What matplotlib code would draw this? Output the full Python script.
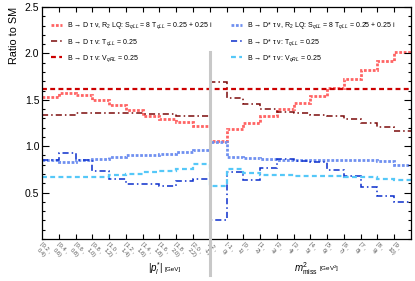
import numpy as np
import matplotlib
matplotlib.use("Agg")
import matplotlib.pyplot as plt
from matplotlib.ticker import MultipleLocator, FixedLocator, NullFormatter
import matplotlib.transforms as mtransforms

plt.rcParams['font.family'] = ['Liberation Sans', 'DejaVu Sans']
plt.rcParams['mathtext.fontset'] = 'custom'
plt.rcParams['mathtext.rm'] = 'Liberation Sans'
plt.rcParams['mathtext.it'] = 'Liberation Sans:italic'

# bin labels: 10 bins in |p_l*|, 12 bins in m_miss^2
p_bins = ["[0.2 ,\n0.4)", "[0.4 ,\n0.6)", "[0.6 ,\n0.8)", "[0.8 ,\n1.0)", "[1.0 ,\n1.2)",
          "[1.2 ,\n1.4)", "[1.4 ,\n1.6)", "[1.6 ,\n1.8)", "[1.8 ,\n2.0)", "[2.0 ,\n2.2)"]
m_bins = ["[-2 ,\n-1)", "[-1 ,\n0)", "[0 ,\n1)", "[1 ,\n2)", "[2 ,\n3)", "[3 ,\n4)",
          "[4 ,\n5)", "[5 ,\n6)", "[6 ,\n7)", "[7 ,\n8)", "[8 ,\n9)", "[9 ,\n10)"]
bin_labels = p_bins + m_bins

# ratio to SM per bin (first 10: |p_l*| bins, last 12: m_miss^2 bins)
bd_lq = [1.53, 1.57, 1.55, 1.50, 1.44, 1.39, 1.33, 1.29, 1.26, 1.22,
         1.06, 1.19, 1.25, 1.33, 1.40, 1.47, 1.54, 1.63, 1.72, 1.82, 1.92, 2.02]
bd_t = [1.34, 1.34, 1.36, 1.36, 1.36, 1.36, 1.345, 1.345, 1.325, 1.325,
        1.69, 1.52, 1.46, 1.40, 1.37, 1.355, 1.34, 1.33, 1.29, 1.255, 1.21, 1.16]
bd_v = [1.62, 1.62, 1.62, 1.62, 1.62, 1.62, 1.62, 1.62, 1.62, 1.62,
        1.62, 1.62, 1.62, 1.62, 1.62, 1.62, 1.62, 1.62, 1.62, 1.62, 1.62, 1.62]
bds_lq = [0.85, 0.83, 0.85, 0.86, 0.88, 0.90, 0.91, 0.92, 0.94, 0.96,
          1.04, 0.885, 0.87, 0.86, 0.85, 0.85, 0.85, 0.85, 0.85, 0.85, 0.845, 0.80]
bds_t = [0.85, 0.93, 0.85, 0.735, 0.65, 0.59, 0.595, 0.575, 0.62, 0.65,
         0.21, 0.72, 0.64, 0.76, 0.86, 0.84, 0.825, 0.74, 0.675, 0.555, 0.465, 0.395]
bds_v = [0.67, 0.67, 0.67, 0.67, 0.69, 0.70, 0.72, 0.735, 0.75, 0.81,
         0.567, 0.75, 0.71, 0.69, 0.69, 0.68, 0.68, 0.675, 0.665, 0.665, 0.65, 0.635]

lq_lbl = ", R$_2$ LQ: S$_{qLL}$ = 8 T$_{qLL}$ = 0.25 + 0.25 i"
series = [
    (bd_lq, "B \u2192 D \u03c4 \u03bd" + lq_lbl, '#ff6464', (0, (1, 0.6)), 2.0),
    (bd_t, "B \u2192 D \u03c4 \u03bd: T$_{qLL}$ = 0.25", '#7a0a0a', (0, (4, 2, 1, 2)), 1.1),
    (bd_v, "B \u2192 D \u03c4 \u03bd: V$_{qRL}$ = 0.25", '#cc0000', (0, (2.2, 1.5)), 1.6),
    (bds_lq, "B \u2192 D* \u03c4 \u03bd" + lq_lbl, '#7090f0', (0, (1, 0.6)), 2.0),
    (bds_t, "B \u2192 D* \u03c4 \u03bd: T$_{qLL}$ = 0.25", '#0a2ecc', (0, (4, 2, 1, 2)), 1.1),
    (bds_v, "B \u2192 D* \u03c4 \u03bd: V$_{qRL}$ = 0.25", '#55c8f8', (0, (2.2, 1.5)), 1.6),
]

fig = plt.figure(figsize=(4.15, 2.81), dpi=100)
ax = fig.add_axes([42 / 415, 42 / 281, 369 / 415, 232 / 281])

n = len(bin_labels)
edges = np.arange(n + 1)
handles = []
for vals, lbl, col, ls, lw in series:
    h = ax.stairs(vals, edges, baseline=None, color=col, linestyle=ls, linewidth=lw, label=lbl)
    handles.append(h)

ax.set_xlim(0, n)
ax.set_ylim(0, 2.5)

# ROOT-like ticks
ax.yaxis.set_major_locator(FixedLocator([0.5, 1, 1.5, 2, 2.5]))
ax.yaxis.set_minor_locator(MultipleLocator(0.1))
ax.xaxis.set_major_locator(FixedLocator(np.arange(1, n)))
ax.xaxis.set_major_formatter(NullFormatter())
ax.tick_params(axis='both', which='both', direction='in', top=True, right=True, width=0.8)
ax.tick_params(axis='y', which='major', length=5, labelsize=7.5, pad=2)
ax.tick_params(axis='y', which='minor', length=2.5)
ax.tick_params(axis='x', which='major', length=3.5)
for s in ax.spines.values():
    s.set_linewidth(0.9)

# rotated bin labels
trans = mtransforms.blended_transform_factory(ax.transData, ax.transAxes)
for i, lbl in enumerate(bin_labels):
    ax.text(i + 0.05, -0.01, lbl, transform=trans, rotation=-45, rotation_mode='anchor',
            ha='left', va='top', multialignment='center', fontsize=4.2, color='#555555',
            linespacing=1.5)

# separator between the two distributions
ax.plot([10, 10], [0.805, -0.155], transform=trans, color='#c8c8c8', linewidth=2.2,
        clip_on=False, zorder=5)

ax.set_ylabel("Ratio to SM", fontsize=7.8, loc='top', labelpad=4)

# axis titles
fig.text(163 / 415, 1 - 269 / 281, r"$|p^{*}_{l}|$", fontsize=7, ha='right', va='center')
fig.text(164 / 415, 1 - 270 / 281, "[GeV]", fontsize=4.5, ha='left', va='center')
fig.text(318 / 415, 1 - 269 / 281, r"$m^{2}_{\rm miss}$", fontsize=7, ha='right', va='center')
fig.text(319 / 415, 1 - 269 / 281, "[GeV$^{2}$]", fontsize=4.5, ha='left', va='center')

leg_kw = dict(loc='upper left', frameon=False, fontsize=5.0, handlelength=1.5,
              handletextpad=0.8, labelspacing=0.8, borderaxespad=0, borderpad=0)
leg1 = ax.legend(handles=handles[:3], bbox_to_anchor=(0.025, 0.942), **leg_kw)
ax.add_artist(leg1)
ax.legend(handles=handles[3:], bbox_to_anchor=(0.513, 0.942), **leg_kw)

fig.savefig("out.png", dpi=100)
